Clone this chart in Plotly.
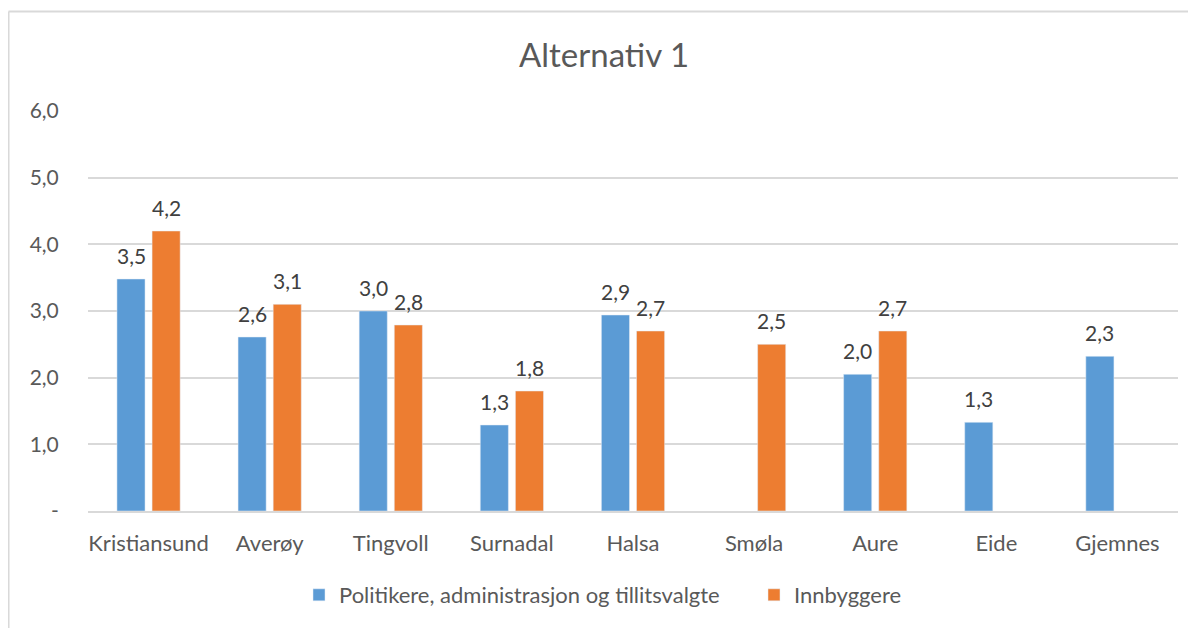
import plotly.graph_objects as go

categories = ["Kristiansund", "Averøy", "Tingvoll", "Surnadal", "Halsa", "Smøla", "Aure", "Eide", "Gjemnes"]
politikere = [3.48, 2.61, 3.0, 1.29, 2.94, None, 2.05, 1.33, 2.32]
innbyggere = [4.2, 3.1, 2.79, 1.8, 2.7, 2.5, 2.7, None, None]
y_tickvals = [0, 1, 2, 3, 4, 5, 6]
y_ticktext = ["-", "1,0", "2,0", "3,0", "4,0", "5,0", "6,0"]

FONT = "Lato"
BLUE = "#5b9bd5"
ORANGE = "#ed7d31"


def fmt(v):
    return f"{v:.1f}".replace(".", ",")


fig = go.Figure()
fig.add_trace(go.Bar(
    x=categories, y=politikere, name="Politikere, administrasjon og tillitsvalgte",
    marker=dict(color=BLUE), legend="legend",
))
fig.add_trace(go.Bar(
    x=categories, y=innbyggere, name="Innbyggere",
    marker=dict(color=ORANGE), legend="legend2",
))

# data labels above each bar
for values, shift in ((politikere, -17.5), (innbyggere, 17.5)):
    for cat, v in zip(categories, values):
        if v is None:
            continue
        fig.add_annotation(x=cat, y=v, text=fmt(v), showarrow=False, xshift=shift, yshift=24,
                           yanchor="middle", xanchor="center",
                           font=dict(family=FONT, size=21, color="#404040"))

legend_style = dict(orientation="h", xanchor="left", y=-0.21, yanchor="middle",
                    font=dict(family=FONT, size=22, color="#595959"), itemwidth=30,
                    bgcolor="rgba(0,0,0,0)")

# page body has an 8px margin, so the figure is 8px smaller and offset
fig.update_layout(
    width=1188, height=620,
    margin=dict(l=80, r=18, t=103, b=117),
    paper_bgcolor="white", plot_bgcolor="white",
    barmode="group", bargap=0.42, bargroupgap=0.2,
    title=dict(text="Alternativ 1", x=0.5017, xanchor="center", y=1 - 47 / 620, yanchor="middle",
               yref="container", font=dict(family=FONT, size=33, color="#595959")),
    font=dict(family=FONT, color="#595959"),
    legend=dict(x=(299 - 88) / 1090, **legend_style),
    legend2=dict(x=(754 - 88) / 1090, **legend_style),
    showlegend=True,
)
fig.update_xaxes(
    showgrid=False, showline=True, linecolor="#d9d9d9", linewidth=2,
    ticks="outside", ticklen=12, tickcolor="rgba(0,0,0,0)",
    tickfont=dict(family=FONT, size=22, color="#595959"),
)
fig.update_yaxes(
    range=[0, 6], tickvals=y_tickvals, ticktext=y_ticktext,
    showgrid=True, gridcolor="#d9d9d9", gridwidth=1.5, zeroline=False, showline=False,
    ticks="outside", ticklen=24, tickcolor="rgba(0,0,0,0)",
    tickfont=dict(family=FONT, size=21, color="#595959"),
)

# Outer chart border (top and left edges visible in the cropped reference)
fig.add_shape(type="line", xref="paper", yref="paper", x0=-0.0729, x1=1.02, y0=1.24875, y1=1.24875,
              line=dict(color="#d9d9d9", width=2))
fig.add_shape(type="line", xref="paper", yref="paper", x0=-0.0729, x1=-0.0729, y0=1.24875, y1=-0.3,
              line=dict(color="#d9d9d9", width=2))

fig.write_html("out.html")
